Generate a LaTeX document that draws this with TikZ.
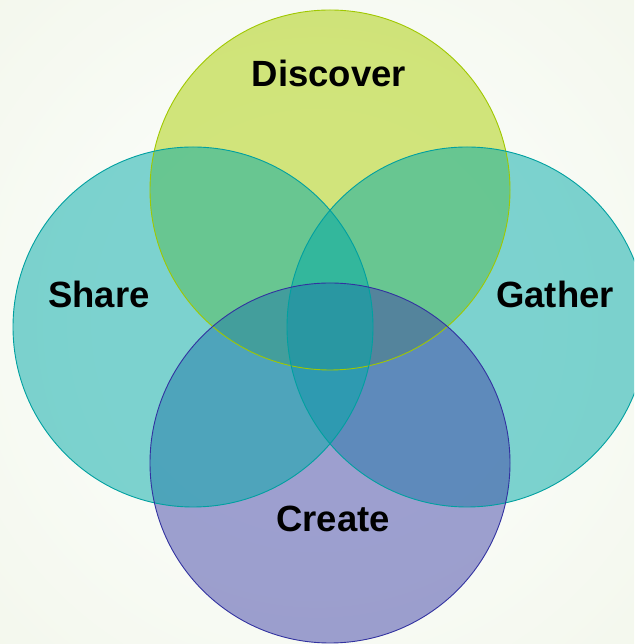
\documentclass[tikz,border=0pt]{standalone}
\usepackage{fontspec}
\setmainfont{Liberation Sans}
\definecolor{bgin}{RGB}{250,252,248}
\definecolor{bgout}{RGB}{232,240,218}
\definecolor{discfill}{RGB}{169,206,0}
\definecolor{discline}{RGB}{160,200,0}
\definecolor{tealfill}{RGB}{0,170,168}
\definecolor{tealline}{RGB}{0,160,160}
\definecolor{crfill}{RGB}{65,68,168}
\definecolor{crline}{RGB}{50,50,160}
\pgfdeclareradialshading{bgshade}{\pgfpoint{0bp}{0bp}}{color(0bp)=(bgin); color(15bp)=(bgin); color(72bp)=(bgout)}
\tikzset{
  venn/.style={circle, minimum size=360pt, inner sep=0pt, fill opacity=0.5},
  rim/.style={line width=0.9pt},
  lbl/.style={font=\fontsize{36.5}{40}\selectfont\bfseries, text=black, inner sep=0pt}
}
\begin{document}
\begin{tikzpicture}[x=1pt,y=1pt]
\useasboundingbox (0,0) rectangle (634,644);
\shade[shading=bgshade] (0,0) rectangle (634,644);
\clip (0,0) rectangle (634,644);
\node[venn, fill=discfill] (discover) at (330,454) {};
\node[venn, fill=tealfill] (gather) at (467,317) {};
\node[venn, fill=crfill] (create) at (330,181) {};
\node[venn, fill=tealfill] (share) at (193,317) {};
\draw[rim, discline] (discover.center) circle[radius=180pt];
\draw[rim, tealline] (gather.center) circle[radius=180pt];
\draw[rim, tealline] (share.center) circle[radius=180pt];
\draw[rim, crline] (create.center) circle[radius=180pt];
\node[lbl] (tdiscover) at (329,571) {Discover};
\node[lbl] (tshare) at (99,349.5) {Share};
\node[lbl] (tgather) at (555,349.5) {Gather};
\node[lbl] (tcreate) at (333,125) {Create};
\end{tikzpicture}
\end{document}
